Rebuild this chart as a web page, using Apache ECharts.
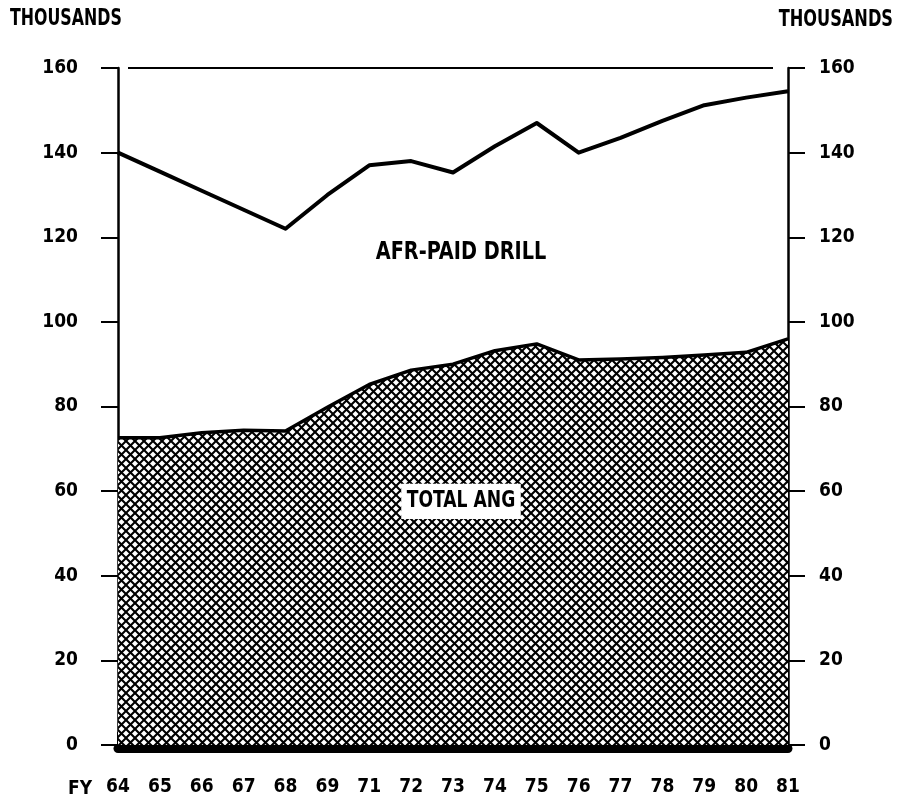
<!DOCTYPE html>
<html>
<head>
<meta charset="utf-8">
<script src="https://cdn.jsdelivr.net/npm/echarts@6/dist/echarts.min.js"></script>
<style>
html,body{margin:0;padding:0;background:#fff;}
#c{width:898px;height:803px;}
</style>
</head>
<body>
<div id="c"></div>
<script>
// Fiscal years (no FY70 on the original axis)
const years = ['64','65','66','67','68','69','71','72','73','74','75','76','77','78','79','80','81'];
// Total ANG strength (thousands) - hatched area
const totalAng = [72.6, 72.6, 73.8, 74.4, 74.2, 79.8, 85.2, 88.6, 90.0, 93.2, 94.8, 91.0, 91.2, 91.6, 92.2, 92.8, 96.0];
// Total including AFR-paid drill (thousands) - upper line
const afrTotal = [140, 135.5, 131, 126.5, 122, 130, 137, 138, 135.3, 141.5, 147, 140, 143.5, 147.5, 151.2, 153, 154.5];
// Value-axis ticks
const yTicks = [0, 20, 40, 60, 80, 100, 120, 140, 160];

const FONT = "'Liberation Sans Narrow','DejaVu Sans Condensed','Roboto',sans-serif";

// cross-hatch pattern
const P = 9;
const pc = document.createElement('canvas');
pc.width = P; pc.height = P;
const g = pc.getContext('2d');
g.fillStyle = '#fff'; g.fillRect(0,0,P,P);
g.strokeStyle = '#000'; g.lineWidth = 2.1;
g.beginPath();
g.moveTo(-2,-2); g.lineTo(P+2,P+2);
g.moveTo(-2,P+2); g.lineTo(P+2,-2);
g.stroke();

const chart = echarts.init(document.getElementById('c'));
const yAxisBase = {
  type: 'value',
  min: yTicks[0], max: yTicks[yTicks.length-1], interval: 20,
  splitLine: {show: false},
  axisLine: {show: true, lineStyle: {color: '#000', width: 2.5}},
  axisTick: {show: true, inside: false, length: 17, lineStyle: {color: '#000', width: 2}},
};
chart.setOption({
  animation: false,
  backgroundColor: '#fff',
  grid: {left: 118, right: 110, top: 68, bottom: 58, containLabel: false},
  xAxis: {
    type: 'category', data: years, boundaryGap: false, offset: 3,
    axisLine: {show: true, onZero: false, lineStyle: {color: '#000', width: 9, cap: 'round'}},
    axisTick: {show: true, inside: true, length: 16, interval: 0, lineStyle: {color: '#000', width: 2}},
    axisLabel: {interval: 0, margin: 30, color: '#000', fontFamily: FONT, fontWeight: 'bold', fontSize: 19},
    splitLine: {show: false}
  },
  yAxis: [
    Object.assign({}, yAxisBase, {position: 'left',
      axisLabel: {margin: 40, color: '#000', fontFamily: FONT, fontWeight: 'bold', fontSize: 19}}),
    Object.assign({}, yAxisBase, {position: 'right',
      axisLabel: {margin: 31, color: '#000', fontFamily: FONT, fontWeight: 'bold', fontSize: 19}})
  ],
  series: [
    {
      name: 'TOTAL ANG', type: 'line', data: totalAng, symbol: 'none', z: 2,
      lineStyle: {color: '#000', width: 3.5, join: 'round'},
      areaStyle: {color: {image: pc, repeat: 'repeat'}, opacity: 1}
    },
    {
      name: 'AFR-PAID DRILL', type: 'line', data: afrTotal, symbol: 'none', z: 3,
      lineStyle: {color: '#000', width: 4, join: 'round'}
    }
  ]
});

function px(cat, val){ return chart.convertToPixel({gridIndex: 0}, [cat, val]); }
const topL = px(years[0], yTicks[yTicks.length-1]);
const topR = px(years[years.length-1], yTicks[yTicks.length-1]);
const lbl1 = px('73', 116.5);
const lbl2 = px('73', 57.6);
const fy = px(years[0], 0);
const txt = (x, y, s, size, align, sx, sy, extra) => ({
  type: 'text', x: x, y: y, z: 100, scaleX: sx || 1, scaleY: sy || 1,
  style: Object.assign({text: s, fill: '#000', font: 'bold ' + size + 'px ' + FONT, align: align || 'center', verticalAlign: 'middle'}, extra || {})
});
chart.setOption({
  graphic: [
    {type: 'line', z: 50, shape: {x1: topL[0] + 10, y1: topL[1], x2: topR[0] - 15, y2: topR[1]}, style: {stroke: '#000', lineWidth: 2}},
    txt(10, 19, 'THOUSANDS', 20, 'left', 0.88, 1.15),
    txt(893, 20, 'THOUSANDS', 20, 'right', 0.9, 1.15),
    txt(lbl1[0] + 8, lbl1[1], 'AFR-PAID DRILL', 21, 'center', 1.02, 1.2),
    txt(lbl2[0] + 8, lbl2[1], 'TOTAL ANG', 21, 'center', 0.91, 1.1, {backgroundColor: '#fff', padding: [6, 6, 5, 6]}),
    txt(fy[0] - 38, fy[1] + 44, 'FY', 19, 'center')
  ]
});
</script>
</body>
</html>
